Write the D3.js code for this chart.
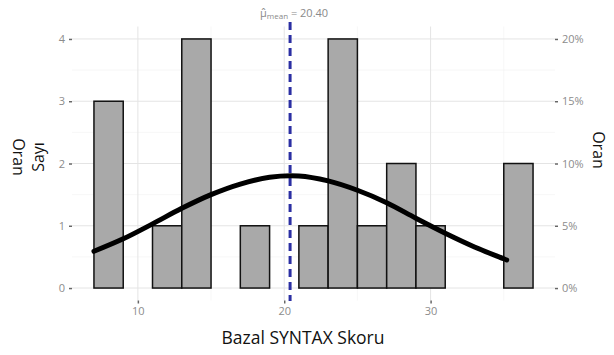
<!DOCTYPE html>
<html>
<head>
<meta charset="utf-8">
<script src="https://cdn.jsdelivr.net/npm/d3@7"></script>
<style>
  body { margin: 0; background: #fff; }
  svg { display: block; font-family: "Open Sans", sans-serif; }
</style>
</head>
<body>
<div id="chart"></div>
<script>
// histogram bins (width 2) and counts
const binStarts = [7, 9, 11, 13, 15, 17, 19, 21, 23, 25, 27, 29, 31, 33, 35];
const binCounts = [3, 0, 1, 4, 0, 1, 0, 1, 4, 1, 2, 1, 0, 0, 2];
const binWidth = 2;
const meanValue = 20.40;

// fitted normal curve (count scale)
const curveX = [7, 9, 11, 13, 15, 17, 19, 21, 23, 25, 27, 29, 31, 33, 35, 35.2];
const curveY = [0.59, 0.79, 1.03, 1.28, 1.50, 1.67, 1.78, 1.80, 1.72, 1.57, 1.37, 1.12, 0.88, 0.66, 0.47, 0.45];

const xTicks = [10, 20, 30];
const yTicks = [0, 1, 2, 3, 4];
const pctTicks = ["0%", "5%", "10%", "15%", "20%"];

const width = 614, height = 355;
const margin = {top: 26.5, right: 59, bottom: 54.5, left: 72};

const svg = d3.select("#chart").append("svg")
  .attr("width", width)
  .attr("height", height);

const x = d3.scaleLinear()
  .domain([5.5, 38.5])
  .range([margin.left, width - margin.right]);

const y = d3.scaleLinear()
  .domain([-0.2, 4.2])
  .range([height - margin.bottom, margin.top]);

const grid = svg.append("g");

// minor grid
grid.selectAll(".ymin")
  .data([0.5, 1.5, 2.5, 3.5])
  .join("line")
  .attr("x1", x.range()[0]).attr("x2", x.range()[1])
  .attr("y1", d => y(d)).attr("y2", d => y(d))
  .attr("stroke", "#f2f2f2").attr("stroke-width", 0.6);
grid.selectAll(".xmin")
  .data([15, 25, 35])
  .join("line")
  .attr("x1", d => x(d)).attr("x2", d => x(d))
  .attr("y1", y.range()[0]).attr("y2", y.range()[1])
  .attr("stroke", "#f2f2f2").attr("stroke-width", 0.6);

// major grid
grid.selectAll(".ymaj")
  .data(yTicks)
  .join("line")
  .attr("x1", x.range()[0]).attr("x2", x.range()[1])
  .attr("y1", d => y(d)).attr("y2", d => y(d))
  .attr("stroke", "#e4e4e4").attr("stroke-width", 1);
grid.selectAll(".xmaj")
  .data(xTicks)
  .join("line")
  .attr("x1", d => x(d)).attr("x2", d => x(d))
  .attr("y1", y.range()[0]).attr("y2", y.range()[1])
  .attr("stroke", "#e4e4e4").attr("stroke-width", 1);

// bars
svg.append("g")
  .selectAll("rect")
  .data(binStarts.map((s, i) => ({s, c: binCounts[i]})).filter(d => d.c > 0))
  .join("rect")
  .attr("x", d => x(d.s))
  .attr("width", d => x(d.s + binWidth) - x(d.s))
  .attr("y", d => y(d.c))
  .attr("height", d => y(0) - y(d.c))
  .attr("fill", "#a9a9a9")
  .attr("stroke", "#111")
  .attr("stroke-width", 1.5);

// mean line
svg.append("line")
  .attr("x1", x(meanValue)).attr("x2", x(meanValue))
  .attr("y1", 22).attr("y2", 301)
  .attr("stroke", "#2b2fa3")
  .attr("stroke-width", 3)
  .attr("stroke-dasharray", "8,5");

// normal curve
const line = d3.line()
  .x(d => x(d[0]))
  .y(d => y(d[1]))
  .curve(d3.curveCatmullRom);
svg.append("path")
  .datum(curveX.map((v, i) => [v, curveY[i]]))
  .attr("d", line)
  .attr("fill", "none")
  .attr("stroke", "#000")
  .attr("stroke-width", 5)
  .attr("stroke-linecap", "round");

// axes
const tickColor = "#8c8c8c";
const leftAxis = svg.append("g")
  .attr("transform", `translate(${margin.left},0)`)
  .call(d3.axisLeft(y).tickValues(yTicks).tickFormat(d3.format("d")).tickSize(3).tickPadding(4));
const rightAxis = svg.append("g")
  .attr("transform", `translate(${width - margin.right},0)`)
  .call(d3.axisRight(y).tickValues(yTicks).tickFormat((d, i) => pctTicks[i]).tickSize(3).tickPadding(4));
const bottomAxis = svg.append("g")
  .attr("transform", `translate(0,${height - margin.bottom})`)
  .call(d3.axisBottom(x).tickValues(xTicks).tickFormat(d3.format("d")).tickSize(3).tickPadding(4));

[leftAxis, rightAxis, bottomAxis].forEach(a => {
  a.select(".domain").remove();
  a.selectAll("line").attr("stroke", "#666").attr("stroke-width", 1.5);
  a.selectAll("text").attr("fill", tickColor).attr("font-size", 11).attr("font-family", "Open Sans, sans-serif");
});

// titles
svg.append("text")
  .attr("x", 303).attr("y", 344)
  .attr("text-anchor", "middle")
  .attr("font-size", 17.5)
  .attr("fill", "#111")
  .text("Bazal SYNTAX Skoru");

svg.append("text")
  .attr("transform", "translate(44,157) rotate(-90)")
  .attr("text-anchor", "middle")
  .attr("font-size", 16)
  .attr("fill", "#111")
  .text("Sayı");

svg.append("text")
  .attr("transform", "translate(13,157) rotate(90)")
  .attr("text-anchor", "middle")
  .attr("font-size", 16)
  .attr("fill", "#111")
  .text("Oran");

svg.append("text")
  .attr("transform", "translate(593,150) rotate(90)")
  .attr("text-anchor", "middle")
  .attr("font-size", 16)
  .attr("fill", "#111")
  .text("Oran");

// mean label
const lab = svg.append("text")
  .attr("x", x(meanValue) + 4).attr("y", 17)
  .attr("text-anchor", "middle")
  .attr("font-size", 11)
  .attr("fill", "#8a8a8a");
lab.append("tspan").text("μ̂");
lab.append("tspan").attr("font-size", 8).attr("dy", 2).text("mean");
lab.append("tspan").attr("dy", -2).text(" = " + meanValue.toFixed(2));
</script>
</body>
</html>
